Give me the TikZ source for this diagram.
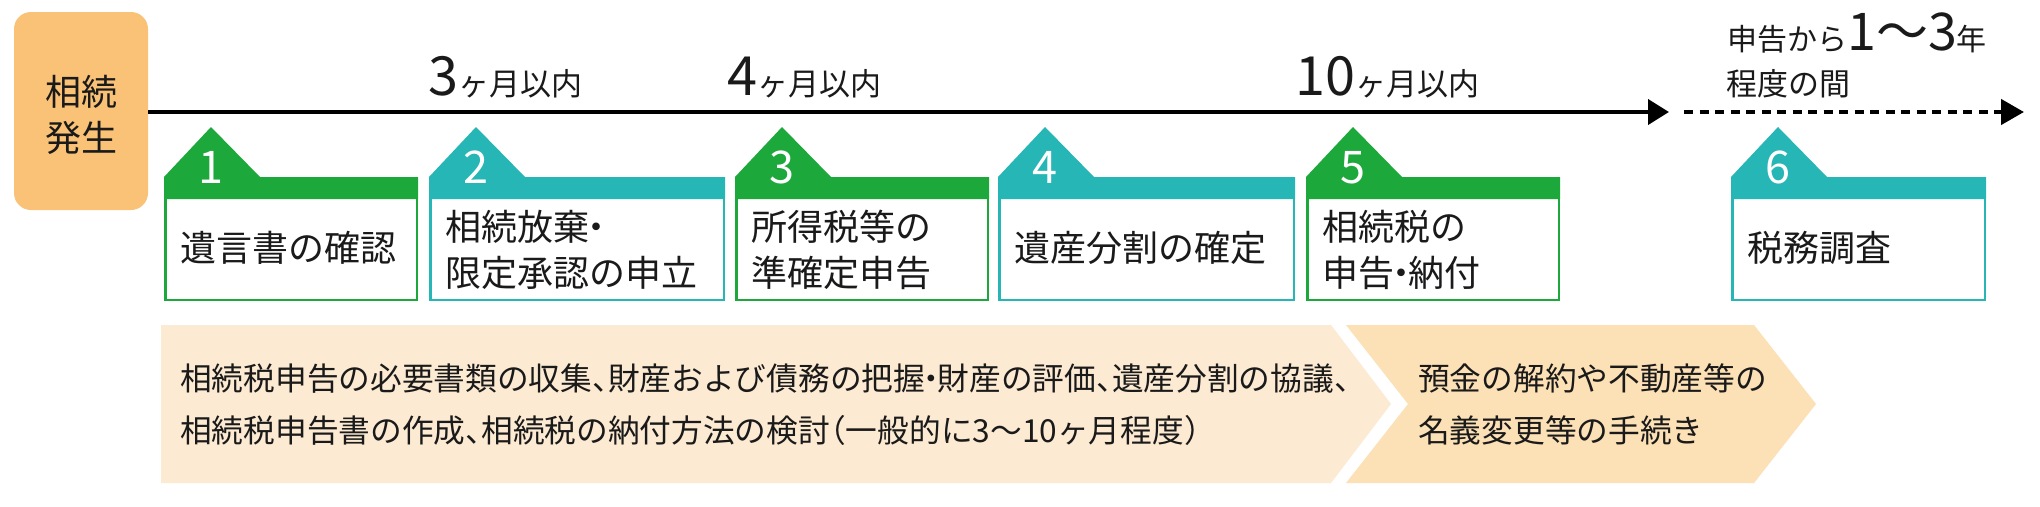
\documentclass[tikz,border=0pt]{standalone}
\usepackage{fontspec}
\setmainfont{Noto Sans CJK JP}
\usetikzlibrary{arrows.meta}
\definecolor{cgreen}{HTML}{1DA83C}
\definecolor{cteal}{HTML}{26B6B5}
\definecolor{corange}{HTML}{F9C276}
\definecolor{cband}{HTML}{FCEAD2}
\definecolor{cbandb}{HTML}{FCE0B6}
\definecolor{ctext}{HTML}{1A1A1A}
\newcommand\fs[1]{\fontsize{#1}{#1}\selectfont}
\newcommand\tten{、\kern-0.5em}
\newcommand\tdot{\kern-0.3em・\kern-0.3em}
\newcommand\tlp{\kern-0.5em（}
\newcommand\trp{）\kern-0.5em}
\newcommand\drawstage[4]{%
  \fill[#3] (#1,199) -- (#1,177) -- ({#1+47},127) -- ({#1+96},177) -- (#2,177) -- (#2,199) -- cycle;
  \draw[#3, line width=2.5pt] ({#1+1.25},198) rectangle ({#2-1.25},{301-1.25});
  \node[numtext] (n#4) at ({#1+47},183) {#4};
}
\begin{document}
\begin{tikzpicture}[x=1pt,y=-1pt,
  boxtext/.style={anchor=base west, inner sep=0pt, font=\fs{36}, text=ctext},
  numtext/.style={anchor=base, inner sep=0pt, font=\fs{45}, text=white},
  bandtext/.style={anchor=base west, inner sep=0pt, font=\fs{31.7}, text=ctext},
  tltext/.style={anchor=base west, inner sep=0pt, text=ctext}]
\useasboundingbox (0,0) rectangle (2040,506);
\fill[white] (0,0) rectangle (2040,506);
% start box
\node[fill=corange, rounded corners=17pt, minimum width=134pt, minimum height=198pt, inner sep=0pt] (start) at (81,111) {};
\node[anchor=base, inner sep=0pt, font=\fs{36}, text=ctext] (s1) at (81,105) {相続};
\node[anchor=base, inner sep=0pt, font=\fs{36}, text=ctext] (s2) at (81,151) {発生};
% timeline
\coordinate (tlend) at (1669,112);
\draw[line width=4pt, -{Triangle[length=21pt,width=25pt]}] (start.east |- tlend) -- (tlend);
\coordinate (dotstart) at (1684,112);
\coordinate (dotend) at (2024,112);
\draw[line width=4.5pt, dash pattern=on 9pt off 6.5pt, -{Triangle[length=23pt,width=25pt]}] (dotstart) -- (dotend);
% timeline labels
\node[tltext] (l1) at (428,95) {{\fs{54}3}{\fs{31}ヶ月以内}};
\node[tltext] (l2) at (727,95) {{\fs{54}4}{\fs{31}ヶ月以内}};
\node[tltext] (l3) at (1295,95) {{\fs{54}10}{\fs{31}ヶ月以内}};
\node[tltext] (l4) at (1727,50) {{\fs{30}申告から}{\fs{52}1〜3}{\fs{30}年}};
\node[tltext, font=\fs{31}] (l5) at (1726,95) {程度の間};
% stages
\drawstage{164}{418}{cgreen}{1}
\drawstage{429}{725}{cteal}{2}
\drawstage{735}{989}{cgreen}{3}
\drawstage{998}{1295}{cteal}{4}
\drawstage{1306}{1560}{cgreen}{5}
\drawstage{1731}{1986}{cteal}{6}
\node[boxtext] (t1) at (180,261) {遺言書の確認};
\node[boxtext] (t2a) at (445,240) {相続放棄\tdot};
\node[boxtext] (t2b) at (445,286) {限定承認の申立};
\node[boxtext] (t3a) at (751,240) {所得税等の};
\node[boxtext] (t3b) at (751,286) {準確定申告};
\node[boxtext] (t4) at (1014,261) {遺産分割の確定};
\node[boxtext] (t5a) at (1322,240) {相続税の};
\node[boxtext] (t5b) at (1322,286) {申告\tdot 納付};
\node[boxtext] (t6) at (1747,261) {税務調査};
% bands
\fill[cband] (161,325) -- (1331,325) -- (1391,404) -- (1331,483) -- (161,483) -- cycle;
\fill[cbandb] (1346,325) -- (1754,325) -- (1816,404) -- (1754,483) -- (1346,483) -- (1408,404) -- cycle;
\node[bandtext] (b1a) at (180,390) {相続税申告の必要書類の収集\tten 財産および債務の把握\tdot 財産の評価\tten 遺産分割の協議、};
\node[bandtext] (b1b) at (180,442) {相続税申告書の作成\tten 相続税の納付方法の検討\tlp 一般的に3〜10ヶ月程度）};
\node[bandtext] (b2a) at (1418,390) {預金の解約や不動産等の};
\node[bandtext] (b2b) at (1418,442) {名義変更等の手続き};
\end{tikzpicture}
\end{document}
